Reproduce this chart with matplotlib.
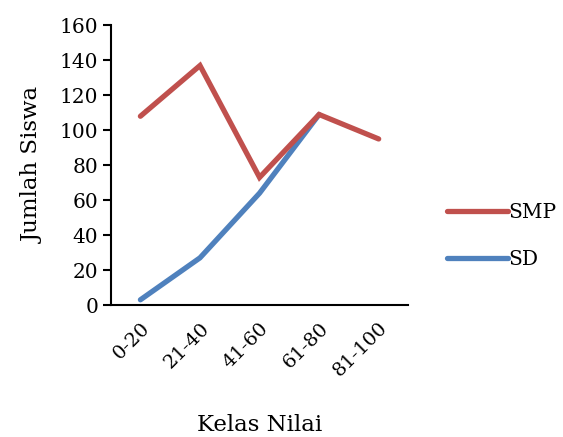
import matplotlib
matplotlib.use("Agg")
import matplotlib.pyplot as plt

# ================================================================================
kelas_nilai=["0-20","21-40","41-60","61-80","81-100"]
smp=[108,137,73,109,95]
sd=[3,27,64,109]

# ================================================================================
plt.rcParams['font.family']=['DejaVu Serif']

fig=plt.figure(figsize=(5.63,4.37),dpi=100)
ax=fig.add_axes([0.1965,0.302,0.529,0.64])

x=list(range(len(kelas_nilai)))
line_smp,=ax.plot(x,smp,color="#C0504D",lw=3.8,solid_capstyle="round",solid_joinstyle="miter",label="SMP")
line_sd,=ax.plot(x[:len(sd)],sd,color="#4F81BD",lw=3.8,solid_capstyle="round",solid_joinstyle="miter",label="SD")
# keep SMP on top
line_smp.set_zorder(3)

ax.set_xlim(-0.5,len(kelas_nilai)-0.5)
ax.set_ylim(0,160)
ax.set_yticks(range(0,161,20))
ax.set_xticks(x)
ax.set_xticklabels(kelas_nilai,rotation=45,ha="right",rotation_mode="anchor",fontsize=14)
ax.tick_params(axis="y",direction="out",length=6,width=1.5,labelsize=14.5,pad=3)
ax.tick_params(axis="x",length=0,pad=10)

for side in ["top","right"]:
  ax.spines[side].set_visible(False)
for side in ["left","bottom"]:
  ax.spines[side].set_linewidth(1.5)

ax.set_ylabel("Jumlah Siswa",fontsize=16.5,va="center")
ax.yaxis.set_label_coords(-0.26,0.5)
ax.set_xlabel("Kelas Nilai",fontsize=16.5,va="center")
ax.xaxis.set_label_coords(0.5,-0.43)

fig.legend(handles=[line_smp,line_sd],loc="center left",bbox_to_anchor=(0.762,0.46),
           frameon=False,fontsize=14.5,handlelength=3.0,handletextpad=0.05,labelspacing=1.35)

fig.savefig("out.png",dpi=100)
